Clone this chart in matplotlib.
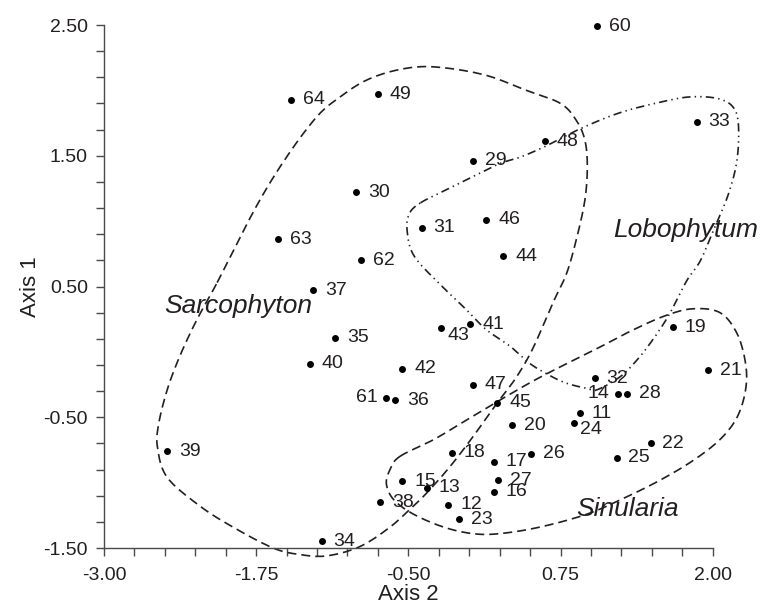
import numpy as np
import matplotlib
matplotlib.use("Agg")
import matplotlib.pyplot as plt
from matplotlib.ticker import MultipleLocator, FixedLocator

plt.rcParams['font.family'] = ['Liberation Sans', 'DejaVu Sans']
plt.rcParams['lines.scale_dashes'] = False

# sample scores
ids = [64, 49, 30, 63, 62, 37, 31, 60, 33, 48, 29, 46, 44, 35, 40, 42, 61, 36,
       39, 15, 38, 34, 13, 43, 41, 19, 21, 47, 45, 32, 14, 28, 11, 24, 20, 22,
       25, 18, 17, 26, 27, 16, 12, 23]
axis2 = [-1.46, -0.75, -0.93, -1.57, -0.89, -1.28, -0.39, 1.05, 1.87, 0.62,
         0.03, 0.14, 0.28, -1.10, -1.31, -0.55, -0.68, -0.61, -2.48, -0.55,
         -0.73, -1.21, -0.35, -0.23, 0.01, 1.67, 1.96, 0.03, 0.23, 1.03,
         1.22, 1.30, 0.91, 0.86, 0.35, 1.49, 1.21, -0.14, 0.20, 0.51,
         0.24, 0.20, -0.17, -0.08]
axis1 = [1.93, 1.97, 1.22, 0.86, 0.70, 0.47, 0.95, 2.49, 1.76, 1.61,
         1.46, 1.01, 0.73, 0.11, -0.09, -0.13, -0.35, -0.37, -0.76, -0.99,
         -1.15, -1.45, -1.04, 0.18, 0.21, 0.19, -0.14, -0.25, -0.39, -0.20,
         -0.32, -0.32, -0.47, -0.54, -0.56, -0.70, -0.81, -0.77, -0.84, -0.78,
         -0.98, -1.07, -1.17, -1.28]

# hand drawn group outlines (axis2, axis1)
sarco_x = [-2.07, -1.75, -1.50, -1.25, -1.06, -0.84, -0.57, -0.29, 0.12, 0.47, 0.75, 0.88, 0.95,
           0.97, 0.95, 0.88, 0.80, 0.70, 0.53, 0.39, 0.23, 0.03, -0.16, -0.35, -0.46, -0.65,
           -0.90, -1.17, -1.39, -1.61, -1.94, -2.21, -2.48, -2.56, -2.55, -2.48, -2.38, -2.24]
sarco_y = [0.53, 1.11, 1.49, 1.80, 1.95, 2.08, 2.16, 2.18, 2.12, 2.00, 1.90, 1.77, 1.62,
           1.42, 1.16, 0.86, 0.60, 0.40, 0.04, -0.19, -0.39, -0.65, -0.88, -1.08, -1.18, -1.34,
           -1.49, -1.56, -1.55, -1.50, -1.34, -1.18, -0.96, -0.73, -0.55, -0.29, -0.04, 0.24]
lobo_x = [-0.40, -0.21, 0.03, 0.25, 0.42, 0.62, 0.92, 1.24, 1.57, 1.81, 2.03, 2.16, 2.21, 2.20,
          2.13, 2.02, 1.90, 1.79, 1.68, 1.60, 1.49, 1.38, 1.24, 1.05, 0.97, 0.80, 0.66, 0.50,
          0.34, 0.14, -0.02, -0.21, -0.45, -0.51, -0.49]
lobo_y = [1.14, 1.23, 1.34, 1.44, 1.49, 1.57, 1.71, 1.83, 1.91, 1.95, 1.94, 1.88, 1.75, 1.47,
          1.21, 0.96, 0.70, 0.55, 0.35, 0.22, 0.07, -0.06, -0.19, -0.29, -0.28, -0.24, -0.18, -0.09,
          0.04, 0.17, 0.32, 0.49, 0.73, 0.93, 1.06]
sinu_x = [-0.57, -0.29, -0.02, 0.25, 0.53, 0.80, 1.08, 1.35, 1.62, 1.84, 2.06, 2.20, 2.27, 2.27,
          2.20, 2.06, 1.84, 1.57, 1.29, 0.97, 0.58, 0.25, 0.03, -0.21, -0.46, -0.62, -0.68, -0.65]
sinu_y = [-0.80, -0.67, -0.52, -0.37, -0.22, -0.09, 0.04, 0.17, 0.28, 0.33, 0.30, 0.14, -0.09, -0.29,
          -0.50, -0.67, -0.83, -0.98, -1.11, -1.24, -1.34, -1.39, -1.39, -1.34, -1.24, -1.13, -1.01, -0.90]

ink = '#231f20'


def closed_curve(xs, ys, n=10):
    # catmull-rom through the traced outline, closed
    p = np.column_stack([xs, ys])
    m = len(p)
    out = []
    t = np.linspace(0, 1, n, endpoint=False)[:, None]
    for i in range(m):
        p0, p1, p2, p3 = p[i - 1], p[i], p[(i + 1) % m], p[(i + 2) % m]
        seg = 0.5 * (2 * p1 + (-p0 + p2) * t + (2 * p0 - 5 * p1 + 4 * p2 - p3) * t ** 2
                     + (-p0 + 3 * p1 - 3 * p2 + p3) * t ** 3)
        out.append(seg)
    out.append(p[:1])
    out = np.vstack(out)
    return out[:, 0], out[:, 1]


fig = plt.figure(figsize=(7.6, 6.1), dpi=100)
ax = fig.add_axes([0.1367, 0.1016, 0.8011, 0.8574])

dash = (0, (6.5, 3.6))
dashdotdot = (0, (6, 3, 1, 3, 1, 3))
for xs, ys, ls in [(sarco_x, sarco_y, dash), (lobo_x, lobo_y, dashdotdot), (sinu_x, sinu_y, dash)]:
    cx, cy = closed_curve(xs, ys)
    ax.plot(cx, cy, color=ink, lw=1.2, linestyle=ls, clip_on=False)

ax.scatter(axis2, axis1, s=25, color='black', zorder=3, clip_on=False, linewidths=0)

left_lab = [14, 61]
low_lab = [43, 24]
for i, x, y in zip(ids, axis2, axis1):
    if i in left_lab:
        ax.annotate(str(i), (x, y), xytext=(-6, 0), textcoords='offset points',
                    ha='right', va='center', fontsize=14, color=ink)
    elif i in low_lab:
        ax.annotate(str(i), (x, y), xytext=(4.5, -5), textcoords='offset points',
                    ha='left', va='center', fontsize=14, color=ink)
    else:
        ax.annotate(str(i), (x, y), xytext=(8.5, 0), textcoords='offset points',
                    ha='left', va='center', fontsize=14, color=ink)

ax.text(-1.90, 0.35, 'Sarcophyton', fontsize=19, style='italic', color=ink, ha='center', va='center')
ax.text(1.78, 0.93, 'Lobophytum', fontsize=19, style='italic', color=ink, ha='center', va='center')
ax.text(1.30, -1.20, 'Sinularia', fontsize=19, style='italic', color=ink, ha='center', va='center')

ax.set_xlim(-3.0, 2.0)
ax.set_ylim(-1.5, 2.5)
ax.xaxis.set_major_locator(FixedLocator([-3.0, -1.75, -0.5, 0.75, 2.0]))
ax.xaxis.set_minor_locator(MultipleLocator(0.25))
ax.yaxis.set_major_locator(FixedLocator([-1.5, -0.5, 0.5, 1.5, 2.5]))
ax.yaxis.set_minor_locator(FixedLocator(np.arange(-1.5, 2.51, 0.2)))
ax.xaxis.set_major_formatter(lambda v, pos: f'{v:.2f}')
ax.yaxis.set_major_formatter(lambda v, pos: f'{v:.2f}')
ax.tick_params(which='both', direction='out', length=5.5, width=1, color='#4a4a4a',
               labelsize=14, labelcolor=ink)
ax.tick_params(axis='y', pad=6)
ax.tick_params(axis='x', pad=8)
for s in ['top', 'right']:
    ax.spines[s].set_visible(False)
for s in ['left', 'bottom']:
    ax.spines[s].set_color('#4a4a4a')
    ax.spines[s].set_linewidth(1)

ax.set_xlabel('Axis 2', fontsize=16, color=ink, labelpad=0)
ax.set_ylabel('Axis 1', fontsize=16, color=ink, labelpad=2)

fig.savefig('out.png', dpi=100)
